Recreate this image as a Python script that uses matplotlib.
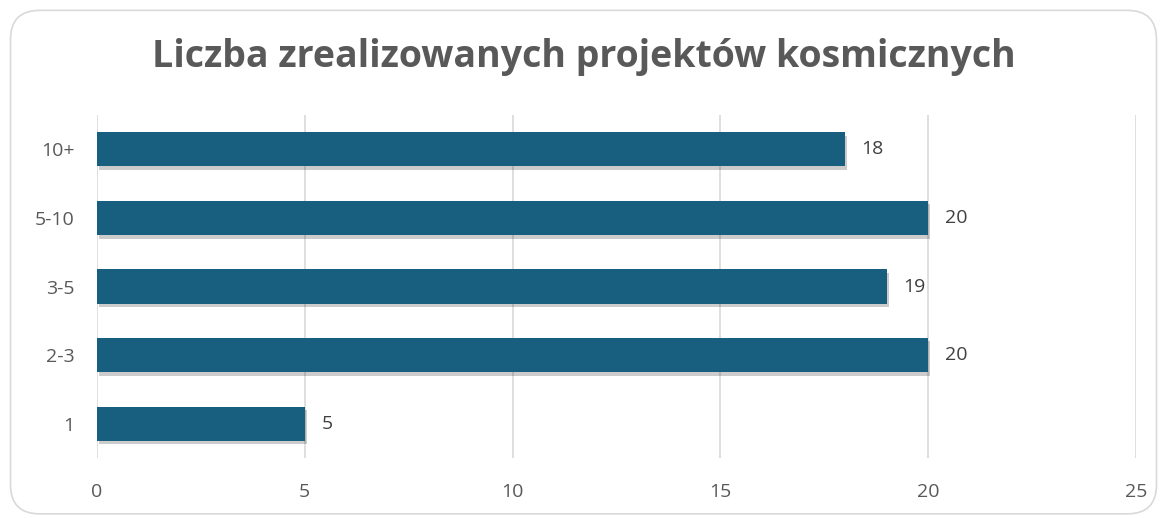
import matplotlib.pyplot as plt
import matplotlib.patheffects as pe
from matplotlib.patches import FancyBboxPatch

# data
categories = ['1', '2-3', '3-5', '5-10', '10+']
values = [5, 20, 19, 20, 18]

bar_color = '#175E7F'
text_color = '#595959'

plt.rcParams['font.family'] = ['Open Sans', 'DejaVu Sans']

fig = plt.figure(figsize=(11.67, 5.18), dpi=100)

# rounded frame around the chart
frame = FancyBboxPatch((0.009, 0.008), 0.982, 0.972, boxstyle='round,pad=0,rounding_size=0.025',
                       transform=fig.transFigure, facecolor='none', edgecolor='#d9d9d9',
                       linewidth=1.2, mutation_aspect=1167 / 518, zorder=-1)
fig.patches.append(frame)

ax = fig.add_axes([0.0831, 0.1158, 0.8903, 0.6622])
ax.set_facecolor('none')

bars = ax.barh(range(len(categories)), values, height=0.5, color=bar_color, zorder=3)
for b in bars:
    b.set_path_effects([pe.SimplePatchShadow(offset=(1.5, -2.5), shadow_rgbFace='#000000', alpha=0.2),
                        pe.Normal()])

for i, v in enumerate(values):
    ax.text(v + 0.4, i, str(v), va='center', ha='left', fontsize=14, color='#404040')

ax.set_xlim(0, 25)
ax.set_ylim(-0.5, 4.5)
ax.set_xticks(range(0, 26, 5))
ax.set_yticks(range(len(categories)))
ax.set_yticklabels(categories)
ax.tick_params(axis='both', length=0, labelsize=14, labelcolor=text_color)
ax.tick_params(axis='x', pad=18)
ax.tick_params(axis='y', pad=16)
ax.grid(axis='x', color='#d9d9d9', linewidth=1.2, zorder=0)
for s in ax.spines.values():
    s.set_visible(False)

fig.text(0.5, 0.89, 'Liczba zrealizowanych projektów kosmicznych', ha='center', va='center',
         fontsize=27, fontweight='bold', color=text_color)

fig.savefig('out.png', dpi=100)
